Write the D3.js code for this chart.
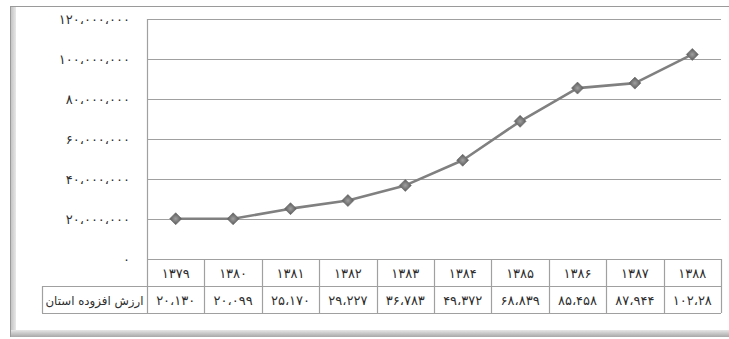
<!DOCTYPE html>
<html>
<head>
<meta charset="utf-8">
<script src="https://cdn.jsdelivr.net/npm/d3@7"></script>
<style>
  html, body { margin: 0; padding: 0; background: #fff; }
  svg { display: block; font-family: "DejaVu Sans", sans-serif; }
</style>
</head>
<body>
<svg id="chart" width="729" height="339"></svg>
<script>
// Years (solar hijri) and provincial value added (thousand units)
const years = ["۱۳۷۹", "۱۳۸۰", "۱۳۸۱", "۱۳۸۲", "۱۳۸۳", "۱۳۸۴", "۱۳۸۵", "۱۳۸۶", "۱۳۸۷", "۱۳۸۸"];
const values = [20130, 20099, 25170, 29227, 36783, 49372, 68839, 85458, 87944, 102280];
const valueLabels = ["۲۰،۱۳۰", "۲۰،۰۹۹", "۲۵،۱۷۰", "۲۹،۲۲۷", "۳۶،۷۸۳", "۴۹،۳۷۲", "۶۸،۸۳۹", "۸۵،۴۵۸", "۸۷،۹۴۴", "۱۰۲،۲۸"];
const rowLabel = "ارزش افزوده استان";
const yTicks = [0, 20000000, 40000000, 60000000, 80000000, 100000000, 120000000];
const unitScale = 1000;

const persianDigits = "۰۱۲۳۴۵۶۷۸۹";
const toPersian = s => String(s).replace(/[0-9]/g, d => persianDigits[+d]).replace(/,/g, "،");

const svg = d3.select("#chart");
const W = 729, H = 339;
const plotL = 147, plotR = 721, plotT = 19, plotB = 259;
const rowH = 27;
const gridColor = "#a0a0a0";
const textColor = "#2e2e2e";

// Outer frame with soft shadow on left and bottom
const defs = svg.append("defs");
const lg = defs.append("linearGradient").attr("id", "shadowL").attr("x1", 0).attr("x2", 1);
lg.append("stop").attr("offset", 0).attr("stop-color", "#bdbdbd");
lg.append("stop").attr("offset", 1).attr("stop-color", "#e8e8e8");
const bg = defs.append("linearGradient").attr("id", "shadowB").attr("x1", 0).attr("x2", 0).attr("y1", 0).attr("y2", 1);
bg.append("stop").attr("offset", 0).attr("stop-color", "#e6e6e6");
bg.append("stop").attr("offset", 1).attr("stop-color", "#a8a8a8");
const mg = defs.append("radialGradient").attr("id", "marker").attr("cx", 0.5).attr("cy", 0.5).attr("r", 0.6);
mg.append("stop").attr("offset", 0).attr("stop-color", "#a0a0a0");
mg.append("stop").attr("offset", 1).attr("stop-color", "#636363");

svg.append("rect").attr("x", 10).attr("y", 6).attr("width", 6).attr("height", 331).attr("fill", "url(#shadowL)");
svg.append("rect").attr("x", 10).attr("y", 330).attr("width", W - 10).attr("height", 7).attr("fill", "url(#shadowB)");
svg.append("line").attr("x1", 10).attr("x2", W).attr("y1", 6.5).attr("y2", 6.5).attr("stroke", "#9a9a9a");
svg.append("line").attr("x1", 10.5).attr("x2", 10.5).attr("y1", 6).attr("y2", 337).attr("stroke", "#9a9a9a");

// Scales
const x = d3.scaleBand().domain(years).range([plotL, plotR]);
const y = d3.scaleLinear().domain([0, 120000000]).range([plotB, plotT]);

// Horizontal gridlines
svg.append("g").selectAll("line").data(yTicks).join("line")
  .attr("x1", plotL).attr("x2", plotR)
  .attr("y1", d => Math.round(y(d)) + 0.5).attr("y2", d => Math.round(y(d)) + 0.5)
  .attr("stroke", gridColor).attr("stroke-width", 1.2);

// Y axis labels
const yAxis = d3.axisLeft(y).tickValues(yTicks).tickSize(0).tickPadding(17)
  .tickFormat(d => toPersian(d3.format(",")(d)));
const ga = svg.append("g").attr("transform", `translate(${plotL},0)`).call(yAxis);
ga.select(".domain").remove();
ga.selectAll("text").attr("font-size", 13).attr("fill", textColor).attr("font-family", "DejaVu Sans");

// Left axis line extending through the table header
svg.append("line").attr("x1", plotL + 0.5).attr("x2", plotL + 0.5).attr("y1", plotT).attr("y2", plotB + 2 * rowH)
  .attr("stroke", gridColor).attr("stroke-width", 1.2);

// Data table
const tbl = svg.append("g").attr("stroke", gridColor).attr("stroke-width", 1.2).attr("fill", "none");
tbl.append("line").attr("x1", plotL).attr("x2", plotR).attr("y1", plotB + rowH + 0.5).attr("y2", plotB + rowH + 0.5);
tbl.append("line").attr("x1", 42).attr("x2", plotR).attr("y1", plotB + 2 * rowH + 0.5).attr("y2", plotB + 2 * rowH + 0.5);
tbl.append("line").attr("x1", 42).attr("x2", plotL).attr("y1", plotB + rowH + 0.5).attr("y2", plotB + rowH + 0.5);
tbl.append("line").attr("x1", 42.5).attr("x2", 42.5).attr("y1", plotB + rowH).attr("y2", plotB + 2 * rowH);
tbl.selectAll("line.col").data(years).join("line").attr("class", "col")
  .attr("x1", d => Math.round(x(d) + x.bandwidth()) + 0.5)
  .attr("x2", d => Math.round(x(d) + x.bandwidth()) + 0.5)
  .attr("y1", plotB).attr("y2", plotB + 2 * rowH);

svg.append("g").selectAll("text").data(years).join("text")
  .attr("x", d => x(d) + x.bandwidth() / 2).attr("y", plotB + rowH / 2 + 5)
  .attr("text-anchor", "middle").attr("font-size", 13).attr("fill", textColor).text(d => d);

svg.append("g").selectAll("text").data(valueLabels).join("text")
  .attr("x", (d, i) => x(years[i]) + x.bandwidth() / 2).attr("y", plotB + rowH * 1.5 + 5)
  .attr("text-anchor", "middle").attr("font-size", 13).attr("fill", textColor).text(d => d);

svg.append("text").attr("x", (42 + plotL) / 2).attr("y", plotB + rowH * 1.5 + 5)
  .attr("text-anchor", "middle").attr("font-size", 11.8).attr("fill", textColor).text(rowLabel);

// Line series
const cx = d => x(d) + x.bandwidth() / 2;
const line = d3.line().x((d, i) => cx(years[i])).y(d => y(d * unitScale));
svg.append("path").datum(values).attr("d", line)
  .attr("fill", "none").attr("stroke", "#808080").attr("stroke-width", 2.6).attr("stroke-linejoin", "round");

// Diamond markers
const sym = d3.symbol().type(d3.symbolSquare).size(72);
svg.append("g").selectAll("path").data(values).join("path")
  .attr("d", sym)
  .attr("transform", (d, i) => `translate(${cx(years[i])},${y(d * unitScale)}) rotate(45)`)
  .attr("fill", "url(#marker)").attr("stroke", "#6a6a6a").attr("stroke-width", 0.6);
</script>
</body>
</html>
